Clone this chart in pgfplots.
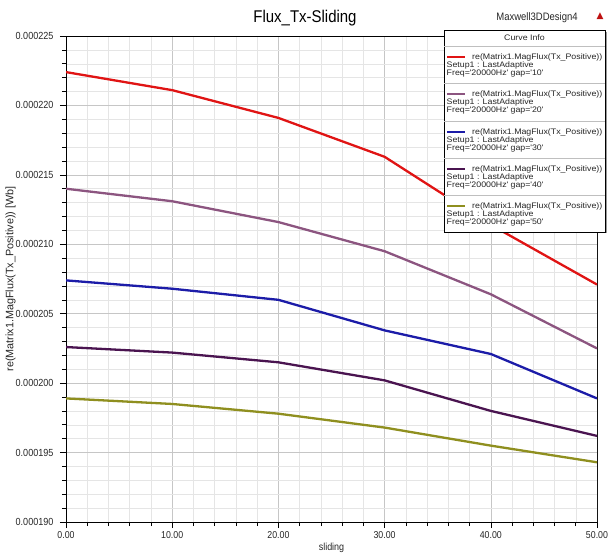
\documentclass[border=0pt]{standalone}
\usepackage{fontspec}
\setmainfont{Liberation Sans}
\newfontfamily\dejavu{DejaVu Sans}
\newfontfamily\legff[FakeStretch=1.1]{Liberation Sans}
\newfontfamily\nar[FakeStretch=0.88]{Liberation Sans}
\usepackage{pgfplots}
\pgfplotsset{compat=1.18}
\definecolor{cred}{HTML}{E01414}
\definecolor{cmauve}{HTML}{8C5580}
\definecolor{cblue}{HTML}{1C1CA8}
\definecolor{cpurple}{HTML}{4A1450}
\definecolor{colive}{HTML}{8F8F1F}
\newcommand{\legfont}{\legff\fontsize{8}{8}\selectfont}
\begin{document}
\begin{tikzpicture}
\path[use as bounding box] (-66pt,-31pt) rectangle (543pt,522pt);
\begin{axis}[
  scale only axis, width=531pt, height=486pt,
  at={(0,0)}, anchor=south west,
  xmin=0, xmax=50, ymin=0.000190, ymax=0.000225,
  xtick={0,10,20,30,40,50},
  ytick={0.000190,0.000195,0.000200,0.000205,0.000210,0.000215,0.000220,0.000225},
  minor x tick num=4, minor y tick num=4,
  grid=both,
  major grid style={color=gray!45, line width=0.6pt},
  minor grid style={color=gray!20, line width=0.5pt},
  tick align=outside, xtick pos=bottom, ytick pos=left,
  major tick length=6pt, minor tick length=4pt,
  every tick/.style={black, line width=0.6pt},
  axis line style={black, line width=0.9pt},
  scaled y ticks=false, scaled x ticks=false,
  /pgf/number format/assume math mode=true,
  y tick label style={/pgf/number format/fixed, /pgf/number format/fixed zerofill, /pgf/number format/precision=6, font=\nar\fontsize{10.3}{11}\selectfont, color=black!85, xshift=-3pt},
  x tick label style={/pgf/number format/fixed, /pgf/number format/fixed zerofill, /pgf/number format/precision=2, font=\nar\fontsize{10}{11}\selectfont, color=black!85},
  xlabel={sliding},
  xlabel style={at={(axis description cs:0.5,-0.053)}, anchor=center, font=\nar\fontsize{10.2}{11}\selectfont, color=black!85},
  ylabel={re(Matrix1.MagFlux(Tx\_Positive)) [Wb]},
  ylabel style={at={(axis description cs:-0.1045,0.5)}, anchor=center, font=\fontsize{10.8}{12}\selectfont, color=black!85},
  every axis plot/.append style={line width=2.3pt},
]
\addplot[cred] coordinates {(0,0.0002224) (10,0.0002211) (20,0.0002191) (30,0.0002163) (40,0.0002114) (50,0.0002071)};
\addplot[cmauve] coordinates {(0,0.0002140) (10,0.0002131) (20,0.0002116) (30,0.0002095) (40,0.0002064) (50,0.0002025)};
\addplot[cblue] coordinates {(0,0.0002074) (10,0.0002068) (20,0.0002060) (30,0.0002038) (40,0.0002021) (50,0.0001989)};
\addplot[cpurple] coordinates {(0,0.0002026) (10,0.0002022) (20,0.0002015) (30,0.0002002) (40,0.0001980) (50,0.0001962)};
\addplot[colive] coordinates {(0,0.0001989) (10,0.0001985) (20,0.0001978) (30,0.0001968) (40,0.0001955) (50,0.0001943)};
\draw[gray!70, line width=1pt] (rel axis cs:1,0) -- (rel axis cs:1,1);
\end{axis}
% title and header texts
\node[font=\nar\fontsize{17}{19}\selectfont] at (239pt,504pt) {Flux\_Tx-Sliding};
\node[font=\nar\fontsize{10.8}{12}\selectfont, color=black!85] at (471pt,504pt) {Maxwell3DDesign4};
\node[font=\dejavu\fontsize{9}{10}\selectfont, color=cred!85!black] at (534pt,506pt) {▲};
% legend box
\fill[black!40] (380pt,288.5pt) rectangle (540.5pt,490pt);
\draw[black, line width=0.8pt, fill=white] (378pt,290pt) rectangle (539pt,492pt);
\node[font=\legfont, color=black!85] at (458.5pt,484pt) {Curve Info};
\foreach \T/\col/\gp in {476/cred/10,439/cmauve/20,401/cblue/30,364/cpurple/40,327/colive/50}{
  \draw[gray!50, line width=0.6pt] (378.4pt,\T pt) -- (538.6pt,\T pt);
  \draw[draw=\col, line width=1.6pt] (381pt,\T pt-11pt) -- (399pt,\T pt-11pt);
  \node[font=\legfont, color=black!85, anchor=base west, inner sep=0pt] at (406pt,\T pt-13.6pt) {re(Matrix1.MagFlux(Tx\_Positive))};
  \node[font=\legfont, color=black!85, anchor=base west, inner sep=0pt] at (380.5pt,\T pt-21.5pt) {Setup1 : LastAdaptive};
  \node[font=\legfont, color=black!85, anchor=base west, inner sep=0pt] at (380.5pt,\T pt-29.4pt) {Freq=\textquotesingle 20000Hz\textquotesingle{} gap=\textquotesingle\gp\textquotesingle};
}
\end{tikzpicture}
\end{document}
